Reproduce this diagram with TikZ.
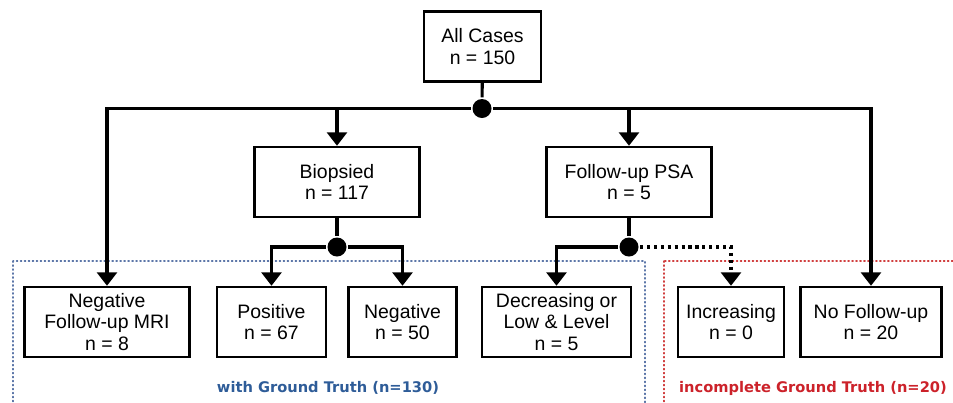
\documentclass[tikz,border=0pt]{standalone}
\usepackage{fontspec}
\usepackage{xcolor}
\usepackage{tikz}
\usetikzlibrary{arrows.meta}
\setmainfont{Liberation Sans}
\newfontfamily\gtfont{DejaVu Sans}

\definecolor{gtblue}{RGB}{46,92,152}
\definecolor{gtred}{RGB}{204,34,42}
\definecolor{areablue}{RGB}{92,118,168}
\definecolor{areared}{RGB}{208,62,62}

\begin{document}
\begin{tikzpicture}[x=0.3mm, y=-0.3mm, line width=2.7pt, >={Triangle[width=17pt,length=11.5pt]}]
  \tikzstyle{case}=[rectangle, draw, line width=2.1pt, inner sep=0pt, align=center, minimum height=21mm, font=\fontsize{16.6}{18.5}\selectfont]
  \tikzstyle{split}=[circle, fill, inner sep=0pt, minimum size=5.7mm]
  \tikzstyle{area}=[line width=1.2pt, dash pattern=on 1pt off 2.4pt, line cap=round]
  \tikzstyle{gt}=[font=\gtfont\bfseries\fontsize{12.5}{14}\selectfont]
  \useasboundingbox (0,0) rectangle (953,402);
  % ground truth areas
  \draw[area, areablue] (13,261) rectangle (645,420);
  \draw[area, areared] (664,261) rectangle (970,420);
  \node[gt, text=gtblue] (withgt) at (328,388) {with Ground Truth (n=130)};
  \node[gt, text=gtred] (nogt) at (813,388) {incomplete Ground Truth (n=20)};
  % cases
  \node[case, minimum width=35.1mm] (all) at (482.5,46.5) {All Cases\\n = 150};
  \node[case, minimum width=49.5mm] (bio) at (337,182) {Biopsied\\n = 117};
  \node[case, minimum width=49.5mm] (psa) at (629,182) {Follow-up PSA\\n = 5};
  \node[case, minimum width=49.5mm] (mri) at (107,322) {Negative\\Follow-up MRI\\n = 8};
  \node[case, minimum width=32.7mm] (pos) at (271.5,322) {Positive\\n = 67};
  \node[case, minimum width=32.4mm] (neg) at (402.5,322) {Negative\\n = 50};
  \node[case, minimum width=44.7mm] (dec) at (556.5,322) {Decreasing or\\Low \& Level\\n = 5};
  \node[case, minimum width=31.8mm] (inc) at (731,322) {Increasing\\n = 0};
  \node[case, minimum width=42.3mm] (nof) at (871,322) {No Follow-up\\n = 20};
  % splits
  \node[split] (jall) at (482,108.5) {};
  \node[split] (jbio) at (337,247) {};
  \node[split] (jpsa) at (629,247) {};
  % connectors
  \draw (all) -- (jall);
  \draw[->] (jall) -| (mri);
  \draw[->] (jall) -| (nof);
  \draw[->] (bio |- jall) -- (bio);
  \draw[->] (psa |- jall) -- (psa);
  \draw (bio) -- (jbio);
  \draw[->] (jbio) -| (pos);
  \draw[->] (jbio) -| (neg);
  \draw (psa) -- (jpsa);
  \draw[->] (jpsa) -| (dec);
  \draw[->, dash pattern=on 2.7pt off 3.2pt] (jpsa) -| (inc);
\end{tikzpicture}
\end{document}
